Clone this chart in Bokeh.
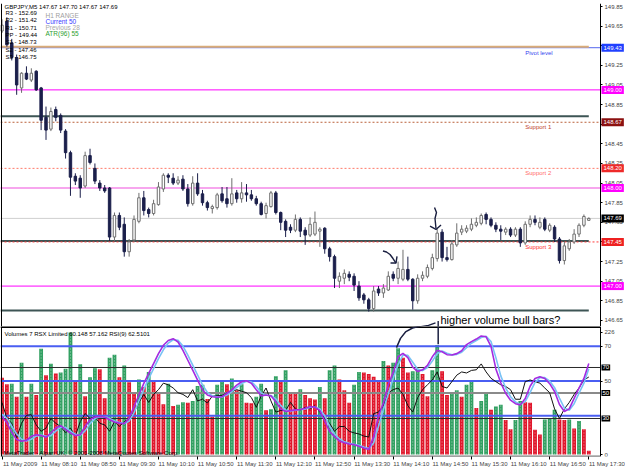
from bokeh.plotting import figure
from bokeh.layouts import column
from bokeh.models import Range1d, LinearAxis, FixedTicker, Label, ColumnDataSource, Span
from bokeh.embed import file_html
from bokeh.resources import INLINE

# ---------------- data ----------------
opens = [149.60, 149.70, 149.48, 149.33, 149.02, 149.17, 149.10, 149.19, 149.02, 148.72,
         148.60, 148.80, 148.74, 148.58, 148.36, 148.12, 148.10, 148.02, 148.33, 148.20,
         148.05, 148.00, 148.00, 147.50, 147.72, 147.63, 147.35, 147.47, 147.66, 147.90,
         147.78, 147.74, 147.83, 147.99, 148.13, 148.10, 148.05, 148.09, 147.99, 147.84,
         148.05, 147.94, 147.85, 147.79, 147.80, 147.94, 147.89, 147.84, 147.95, 147.89,
         147.95, 147.93, 147.89, 147.84, 147.74, 147.81, 147.95, 147.75, 147.66, 147.60,
         147.57, 147.68, 147.57, 147.52, 147.53, 147.56, 147.59, 147.38, 147.30, 147.05,
         147.08, 147.12, 147.10, 147.00, 146.91, 146.86, 146.77, 146.97, 146.93, 146.96,
         147.12, 147.08, 147.07, 147.17, 147.07, 146.85, 147.08, 147.10, 147.18, 147.28,
         147.55, 147.29, 147.27, 147.42, 147.55, 147.56, 147.58, 147.62, 147.64, 147.73,
         147.68, 147.62, 147.58, 147.55, 147.58, 147.52, 147.58, 147.44, 147.63, 147.68,
         147.60, 147.68, 147.57, 147.60, 147.48, 147.26, 147.38, 147.45, 147.53, 147.62,
         147.67]
highs = [149.72, 149.74, 149.52, 149.36, 149.18, 149.24, 149.22, 149.20, 149.03, 148.83,
         148.82, 148.83, 148.76, 148.60, 148.38, 148.15, 148.13, 148.37, 148.40, 148.25,
         148.08, 148.03, 148.01, 147.75, 147.75, 147.70, 147.48, 147.72, 147.95, 147.97,
         147.80, 147.88, 148.06, 148.15, 148.15, 148.15, 148.12, 148.13, 148.04, 148.12,
         148.15, 147.98, 147.87, 147.83, 147.95, 148.01, 148.01, 148.10, 147.98, 148.06,
         148.04, 147.98, 147.92, 147.86, 147.85, 147.97, 147.97, 147.76, 147.68, 147.63,
         147.73, 147.70, 147.60, 147.70, 147.76, 147.60, 147.60, 147.40, 147.32, 147.14,
         147.17, 147.15, 147.13, 147.05, 146.93, 146.88, 147.00, 147.00, 147.02, 147.15,
         147.15, 147.25, 147.37, 147.30, 147.08, 147.12, 147.15, 147.22, 147.33, 147.58,
         147.58, 147.40, 147.47, 147.64, 147.62, 147.62, 147.69, 147.70, 147.74, 147.75,
         147.70, 147.65, 147.62, 147.60, 147.60, 147.60, 147.60, 147.66, 147.72, 147.72,
         147.70, 147.70, 147.64, 147.62, 147.50, 147.45, 147.48, 147.58, 147.64, 147.73,
         147.70]
lows = [149.58, 149.44, 149.30, 148.95, 148.97, 149.10, 149.08, 148.99, 148.59, 148.49,
        148.58, 148.68, 148.56, 148.30, 147.92, 148.03, 147.90, 148.00, 148.24, 148.04,
        147.97, 147.95, 147.46, 147.46, 147.57, 147.30, 147.30, 147.45, 147.64, 147.72,
        147.70, 147.72, 147.82, 147.96, 148.05, 148.03, 148.03, 147.97, 147.81, 147.82,
        147.92, 147.82, 147.77, 147.74, 147.78, 147.85, 147.80, 147.82, 147.85, 147.85,
        147.86, 147.87, 147.82, 147.72, 147.69, 147.80, 147.73, 147.57, 147.50, 147.54,
        147.55, 147.50, 147.42, 147.50, 147.51, 147.40, 147.33, 147.25, 146.98, 146.98,
        147.02, 147.05, 146.95, 146.85, 146.82, 146.74, 146.74, 146.90, 146.88, 146.95,
        147.05, 147.02, 147.05, 147.05, 146.76, 146.82, 147.05, 147.08, 147.16, 147.25,
        147.25, 147.25, 147.26, 147.40, 147.52, 147.54, 147.56, 147.60, 147.62, 147.63,
        147.60, 147.55, 147.47, 147.52, 147.50, 147.50, 147.40, 147.42, 147.60, 147.62,
        147.58, 147.56, 147.55, 147.45, 147.23, 147.22, 147.36, 147.43, 147.50, 147.60,
        147.67]
closes = [149.66, 149.46, 149.33, 149.05, 149.17, 149.11, 149.17, 149.00, 148.69, 148.59,
          148.78, 148.72, 148.59, 148.36, 148.11, 148.07, 148.00, 148.33, 148.26, 148.07,
          148.00, 147.97, 147.50, 147.72, 147.60, 147.35, 147.45, 147.68, 147.90, 147.77,
          147.74, 147.84, 148.01, 148.13, 148.11, 148.05, 148.08, 147.99, 147.84, 148.05,
          147.94, 147.85, 147.80, 147.81, 147.93, 147.87, 147.84, 147.94, 147.89, 147.95,
          147.93, 147.89, 147.84, 147.73, 147.82, 147.95, 147.75, 147.65, 147.57, 147.57,
          147.68, 147.56, 147.52, 147.63, 147.65, 147.58, 147.38, 147.30, 147.08, 147.10,
          147.13, 147.09, 147.01, 146.88, 146.86, 146.77, 146.95, 146.93, 146.98, 147.10,
          147.08, 147.18, 147.17, 147.07, 146.85, 147.08, 147.11, 147.19, 147.29, 147.54,
          147.29, 147.27, 147.43, 147.54, 147.58, 147.59, 147.63, 147.65, 147.72, 147.68,
          147.62, 147.58, 147.56, 147.58, 147.52, 147.58, 147.44, 147.63, 147.68, 147.65,
          147.65, 147.58, 147.62, 147.48, 147.26, 147.41, 147.45, 147.53, 147.62, 147.71,
          147.69]
volumes = [142, 130, 131, 107, 170, 107, 131, 110, 196, 147,
           168, 150, 152, 159, 226, 136, 167, 108, 143, 160,
           158, 104, 179, 185, 143, 165, 134, 115, 139, 125,
           153, 135, 115, 93, 131, 90, 92, 97, 96, 99,
           127, 129, 103, 70, 129, 137, 130, 141, 119, 130,
           96, 95, 107, 131, 82, 84, 145, 136, 156, 116,
           112, 121, 110, 104, 102, 125, 104, 156, 165, 139,
           119, 96, 129, 153, 152, 149, 144, 136, 173, 165,
           170, 197, 179, 152, 154, 159, 149, 108, 156, 203,
           154, 110, 116, 119, 107, 129, 137, 86, 99, 113,
           83, 89, 92, 64, 47, 64, 99, 97, 96, 46,
           37, 65, 66, 83, 65, 64, 65, 48, 62, 47,
           7]
rsx = [29.6, 26.0, 20.5, 16.3, 15.3, 15.9, 18.2, 19.1, 18.6, 17.6,
       20.1, 23.0, 24.3, 22.0, 20.1, 18.6, 19.1, 23.9, 27.7, 29.3,
       29.6, 29.3, 27.7, 26.4, 25.8, 25.4, 28.7, 35.3, 42.0, 48.7,
       54.4, 60.1, 65.8, 70.6, 73.4, 74.4, 72.5, 67.7, 62.0, 56.3,
       50.6, 44.9, 42.0, 41.0, 40.7, 41.0, 43.0, 44.9, 47.7, 49.6,
       50.2, 48.7, 45.0, 41.5, 42.0, 41.5, 38.0, 34.0, 32.5, 33.0,
       33.4, 33.6, 34.4, 35.3, 35.0, 33.0, 27.0, 21.0, 18.0, 15.5,
       14.5, 13.8, 13.4, 12.5, 11.5, 10.6, 18.0, 30.0, 37.4, 48.0,
       55.0, 64.0, 66.0, 63.5, 58.0, 55.5, 56.5, 59.0, 64.0, 67.7,
       66.9, 65.2, 65.0, 65.8, 67.5, 71.0, 72.7, 74.2, 76.0, 75.5,
       70.0, 57.0, 49.0, 43.0, 39.0, 37.0, 36.3, 40.0, 47.0, 51.5,
       52.5, 51.5, 48.5, 44.0, 36.5, 32.5, 34.0, 40.0, 46.0, 51.5,
       60.148]
rsx_signal = [31.0, 28.5, 24.0, 19.5, 16.5, 15.5, 16.5, 18.3, 18.9, 18.2,
              18.6, 21.2, 23.4, 23.3, 21.2, 19.4, 18.8, 21.3, 25.5, 28.4,
              29.4, 29.4, 28.5, 27.0, 26.1, 25.6, 26.9, 31.8, 38.5, 45.2,
              51.4, 57.2, 62.9, 68.0, 71.9, 73.8, 73.5, 70.2, 64.9, 59.2,
              53.5, 47.8, 43.5, 41.5, 40.9, 40.9, 42.0, 43.9, 46.3, 48.6,
              49.9, 49.5, 46.9, 43.2, 41.8, 41.7, 39.8, 36.0, 33.3, 32.8,
              33.2, 33.5, 34.0, 34.8, 35.1, 34.0, 30.0, 24.0, 19.5, 16.8,
              15.0, 14.2, 13.6, 13.0, 12.0, 11.1, 14.3, 24.0, 33.7, 42.7,
              51.5, 59.5, 65.0, 64.8, 60.8, 56.8, 56.0, 57.8, 61.5, 65.9,
              67.3, 66.0, 65.1, 65.4, 66.6, 69.2, 71.8, 73.4, 75.1, 75.8,
              72.8, 63.5, 53.0, 46.0, 41.0, 38.0, 36.6, 38.2, 43.5, 49.2,
              52.0, 52.0, 50.0, 46.2, 40.2, 34.5, 33.2, 37.0, 43.0, 48.8,
              57.162]
rsi9 = [42.6, 30.0, 26.2, 14.9, 26.2, 32.5, 33.0, 25.0, 20.0, 22.5,
        30.0, 26.2, 23.7, 18.7, 22.5, 16.2, 27.5, 33.8, 30.0, 31.3,
        26.2, 25.0, 20.0, 27.5, 23.7, 27.5, 30.0, 35.0, 42.6, 48.9,
        42.6, 48.9, 52.6, 57.7, 56.4, 53.9, 50.2, 48.9, 46.4, 52.6,
        43.8, 45.1, 42.1, 47.6, 48.1, 48.1, 50.2, 51.4, 52.6, 51.4,
        50.2, 46.4, 38.8, 47.6, 53.9, 43.8, 35.0, 36.3, 36.3, 42.6,
        37.5, 36.3, 38.8, 37.5, 40.0, 35.0, 30.0, 26.2, 20.0, 23.7,
        23.7, 20.0, 18.7, 17.9, 16.2, 15.5, 33.8, 35.0, 40.0, 50.2,
        52.6, 53.9, 48.9, 40.0, 35.0, 46.4, 52.6, 56.4, 60.2, 66.5,
        55.1, 53.9, 58.9, 64.0, 66.5, 65.7, 67.7, 68.2, 72.8, 66.5,
        61.5, 58.9, 56.4, 55.1, 52.6, 45.1, 45.1, 58.9, 60.2, 58.9,
        57.7, 53.9, 50.2, 37.5, 30.0, 37.5, 42.6, 48.9, 53.9, 60.2,
        62.5101]

time_labels = ["11 May 2009", "11 May 08:10", "11 May 08:50", "11 May 09:30",
               "11 May 10:10", "11 May 10:50", "11 May 11:30", "11 May 12:10",
               "11 May 12:50", "11 May 13:30", "11 May 14:10", "11 May 14:50",
               "11 May 15:30", "11 May 16:10", "11 May 16:50", "11 May 17:30"]
bars_per_label = 8

price_ticks = [146.65, 146.85, 147.05, 147.25, 147.45, 147.65, 147.85, 148.05,
               148.25, 148.45, 148.65, 148.85, 149.05, 149.25, 149.45, 149.65, 149.85]

pivot_names = ["R3", "R2", "R1", "PP", "S1", "S2", "S3"]
pivot_values = [152.69, 151.42, 150.71, 149.44, 148.73, 147.46, 146.75]
level_names = ["Pivot level", "Support 1", "Support 2", "Support 3"]
level_values = [149.43, 148.67, 148.20, 147.45]
round_levels = [149.00, 148.00, 147.00]
bid_price = 147.69
symbol_header = "GBPJPY,M5  147.67 147.70 147.67 147.69"
range_lines = ["H1 RANGE", "Current 50", "Previous 28", "ATR(96) 55"]

rsx_levels = [70, 50, 30]
rsi_levels = [70, 50, 30]
vol_axis_labels = [226, 0]
indicator_header = "Volumes 7  RSX Limited 60.148 57.162  RSI(9) 62.5101"
copyright_text = "MetaTrader - Alpari UK, \u00a9 2001-2008 MetaQuotes Software Corp."
note_text = "higher volume bull bars?"

# hand-drawn annotations (bar index, price / rsx units)
arrow1_bar = [77.91, 78.63, 79.35, 79.96, 80.57]
arrow1_price = [147.358, 147.347, 147.322, 147.281, 147.235]
arrow1_head_bar = [79.45, 80.57, 80.78]
arrow1_head_price = [147.235, 147.235, 147.302]
arrow2_bar = [88.45, 88.85, 88.55, 88.75]
arrow2_price = [147.801, 147.750, 147.689, 147.587]
arrow2_head_bar = [87.53, 88.75, 89.78]
arrow2_head_price = [147.612, 147.577, 147.623]
arrow3_bar = [80.67, 81.49, 82.52, 83.95, 85.58, 87.22, 88.65]
arrow3_rsx = [69.26, 74.57, 78.29, 80.57, 81.71, 82.57, 83.89]
arrow3_stem_bar = [89.2, 89.2]
arrow3_stem_rsx = [84.86, 71.14]
arrow3_top_bar = [85.58, 87.22, 88.65]
arrow3_top_price = [146.585, 146.600, 146.625]
arrow3_top_stem_bar = [89.2, 89.2]
arrow3_top_stem_price = [146.645, 146.59]

FONT = "Liberation Sans"
PX_PER_BAR = 4.89
X_START = -1.5 / PX_PER_BAR          # frame spans the whole 625 px width
X_END = (625 - 1.5) / PX_PER_BAR
X_AXIS = (600 - 1.5) / PX_PER_BAR    # where the MT4 price scale starts
X_LEFT = (1 - 1.5) / PX_PER_BAR
LABEL_SHIFT = 3.7                    # time labels start at their tick (MT4 style)

n = len(closes)
idx = list(range(n))
INK = "#1a1f40"


def style_axis(ax, size="6px"):
    ax.major_label_text_font_size = size
    ax.major_label_text_font = FONT
    ax.minor_tick_line_color = None
    ax.major_tick_in = 0


# ---------------- main price panel ----------------
p1 = figure(width=625, height=326, x_range=Range1d(X_START, X_END),
            y_range=Range1d(146.5880, 149.8806), output_backend="svg",
            toolbar_location=None, x_axis_location=None, y_axis_location=None,
            min_border_left=0, min_border_right=0, min_border_top=3, min_border_bottom=0)
p1.grid.visible = False
p1.outline_line_color = None

# horizontal level lines (end at the price scale)
for lv in round_levels:
    p1.segment(x0=[X_START], x1=[X_AXIS], y0=[lv], y1=[lv], line_color="#ff00ff", line_width=1)
p1.segment(x0=[X_START], x1=[X_AXIS], y0=[round_levels[1]], y1=[round_levels[1]], line_color="#f7a6ee", line_width=2)
p1.segment(x0=[X_START], x1=[X_AXIS], y0=[bid_price], y1=[bid_price], line_color="#cfcfcf", line_width=1)
p1.segment(x0=[X_START], x1=[X_AXIS], y0=[level_values[0]], y1=[level_values[0]], line_color="#5566ee", line_width=1)
p1.segment(x0=[X_START], x1=[n - 1], y0=[pivot_values[3]], y1=[pivot_values[3]], line_color="#d9ac78", line_width=2)
for pv in pivot_values[4:]:
    p1.segment(x0=[X_START], x1=[n - 1], y0=[pv], y1=[pv], line_color="#3d5555", line_width=2)
sup_colors = ["#b9603a", "#ff7a6a", "#ff3b3b"]
sup_text_colors = ["#c0402a", "#ff6a6a", "#ff3030"]
for lv, col in zip(level_values[1:], sup_colors):
    p1.segment(x0=[X_START], x1=[X_AXIS], y0=[lv], y1=[lv], line_color=col, line_width=1, line_dash="2 2")

# candles
bull = [c >= o for o, c in zip(opens, closes)]
src = ColumnDataSource(dict(
    x=idx, h=highs, l=lows,
    top=[max(o, c) for o, c in zip(opens, closes)],
    bottom=[min(o, c) for o, c in zip(opens, closes)],
    fill=["white" if b else "#1b1f4b" for b in bull],
    line=["#6e6e6e" if b else "#1b1f4b" for b in bull],
))
p1.segment(x0="x", y0="l", x1="x", y1="h", line_color="line", line_width=1, source=src)
p1.vbar(x="x", width=0.5, top="top", bottom="bottom", fill_color="fill", line_color="line",
        line_width=1, source=src)

# hand-drawn annotations
for xs, ys in [(arrow1_bar, arrow1_price), (arrow1_head_bar, arrow1_head_price),
               (arrow2_bar, arrow2_price), (arrow2_head_bar, arrow2_head_price),
               (arrow3_top_bar, arrow3_top_price), (arrow3_top_stem_bar, arrow3_top_stem_price)]:
    p1.line(xs, ys, line_color=INK, line_width=1.4)

# price scale: a real axis fixed at the scale's left edge
ya = LinearAxis(ticker=FixedTicker(ticks=price_ticks), fixed_location=X_AXIS)
style_axis(ya)
ya.major_tick_out = 2
ya.major_label_standoff = 2
ya.axis_line_color = "black"
p1.add_layout(ya, "right")
p1.add_layout(Span(location=X_LEFT, dimension="height", line_color="black", line_width=1))

# coloured value boxes on the price scale
box_specs = [(level_values[0], "#2040ff"), (round_levels[0], "#ff00ff"), (level_values[1], "#8b1010"),
             (level_values[2], "#ee2a2a"), (round_levels[1], "#ff00ff"), (bid_price, "#000000"),
             (level_values[3], "#ee2020"), (round_levels[2], "#ff00ff")]
for val, col in box_specs:
    p1.add_layout(Label(x=X_AXIS, y=val, x_offset=1, text=f"{val:.2f}", text_font=FONT,
                        text_font_size="6px", text_color="white", text_baseline="middle",
                        text_align="left", background_fill_color=col, padding=2))

# level texts
for name, lv, col in zip(level_names, level_values, ["#3344ee"] + sup_text_colors):
    p1.add_layout(Label(x=107.0, y=lv, text=name, text_font=FONT, text_font_size="6px",
                        text_color=col, text_baseline="top", y_offset=-2))

# top-left texts (screen units are measured from the frame's bottom-left)
p1.add_layout(Label(x=4, x_units="screen", y=320, y_units="screen", text=symbol_header,
                    text_font=FONT, text_font_size="6px", text_color="black", text_baseline="middle"))
for k, (nm, pv) in enumerate(zip(pivot_names, pivot_values)):
    p1.add_layout(Label(x=5, x_units="screen", y=313.5 - 7.3 * k, y_units="screen",
                        text=f"{nm} - {pv:.2f}", text_font=FONT, text_font_size="6px",
                        text_color="black", text_baseline="middle"))
for k, (t, col) in enumerate(zip(range_lines, ["#a0a0a0", "#3a3aff", "#a8a8a8", "#2ea02e"])):
    p1.add_layout(Label(x=45, x_units="screen", y=311 - 6 * k, y_units="screen", text=t,
                        text_font=FONT, text_font_size="6.5px", text_color=col, text_baseline="middle"))
p1.add_layout(Label(x=440, x_units="screen", y=7, y_units="screen", text=note_text,
                    text_font=FONT, text_font_size="11px", text_color="black", text_baseline="alphabetic"))

# ---------------- indicator panel ----------------
p2 = figure(width=625, height=143, x_range=p1.x_range, y_range=Range1d(6.57, 81.43),
            output_backend="svg", toolbar_location=None, y_axis_location=None,
            min_border_left=0, min_border_right=0, min_border_top=0, min_border_bottom=12)
p2.extra_y_ranges = {"vol": Range1d(-3.68, 237.1), "rsi": Range1d(0.195, 102.14)}
p2.grid.visible = False
p2.outline_line_color = None

vcol = ["#e0162b"] + ["#32a062" if volumes[i] > volumes[i - 1] else "#e0162b" for i in range(1, n)]
vsrc = ColumnDataSource(dict(x=idx, v=volumes, c=vcol))
p2.vbar(x="x", top="v", bottom=0, width=0.78, fill_color="c", line_color=None,
        y_range_name="vol", source=vsrc)
p2.segment(x0="x", y0=0, x1="x", y1="v", line_color="white", line_alpha=0.55, line_width=1,
           line_dash="1 2", y_range_name="vol", source=vsrc)

for lv in rsi_levels:
    p2.segment(x0=[X_START], x1=[X_AXIS], y0=[lv], y1=[lv], line_color="#8a8a8a" if lv == 50 else "#2a2a2a",
               line_width=2 if lv == 50 else 1, y_range_name="rsi")
for lv in rsx_levels:
    p2.segment(x0=[X_START], x1=[X_AXIS], y0=[lv], y1=[lv], line_color="#4a5ef2", line_width=2)
# panel separator along the top edge and the bottom border up to the scale
p2.segment(x0=[X_START], x1=[X_AXIS], y0=[81.1], y1=[81.1], line_color="black", line_width=2)
p2.segment(x0=[X_START], x1=[X_AXIS], y0=[-3.2], y1=[-3.2], line_color="black", line_width=1,
           y_range_name="vol")

p2.line(idx, rsi9, line_color="#111111", line_width=1, y_range_name="rsi")
p2.line(idx, rsx_signal, line_color="#79c2f5", line_width=1.6)
p2.line(idx, rsx, line_color="#a42be0", line_width=1.6)
p2.line(arrow3_bar, arrow3_rsx, line_color=INK, line_width=1.5)
p2.line(arrow3_stem_bar, arrow3_stem_rsx, line_color=INK, line_width=1.5)

ra = LinearAxis(ticker=FixedTicker(ticks=rsx_levels[:2]), fixed_location=X_AXIS)
style_axis(ra)
ra.major_tick_out = 2
ra.major_label_standoff = 2
ra.axis_line_color = "black"
p2.add_layout(ra, "right")
vax = LinearAxis(y_range_name="vol", ticker=FixedTicker(ticks=vol_axis_labels), fixed_location=X_AXIS,
                 axis_line_color=None, major_tick_out=2, major_label_standoff=2)
style_axis(vax)
p2.add_layout(vax, "right")
for lv in rsi_levels:
    p2.add_layout(Label(x=X_AXIS, y=lv, y_range_name="rsi", x_offset=1, text=str(lv),
                        text_font=FONT, text_font_size="6px", text_color="white", text_baseline="middle",
                        background_fill_color="black", padding=1))
p2.add_layout(Span(location=X_LEFT, dimension="height", line_color="black", line_width=1))

# time axis: tick marks at the bars, labels starting at each tick
xa = p2.xaxis[0]
tick_bars = [k * bars_per_label for k in range(len(time_labels))]
label_pos = [t + LABEL_SHIFT for t in tick_bars]
xa.ticker = FixedTicker(ticks=label_pos, minor_ticks=tick_bars)
xa.major_label_overrides = {p: s for p, s in zip(label_pos, time_labels)}
xa.major_label_text_font_size = "6px"
xa.major_label_text_font = FONT
xa.axis_line_color = None
xa.major_tick_line_color = None
xa.major_tick_out = 3
xa.major_tick_in = 0
xa.minor_tick_line_color = "black"
xa.minor_tick_out = 3
xa.minor_tick_in = 0
xa.major_label_standoff = 1

p2.add_layout(Label(x=4, x_units="screen", y=123, y_units="screen", text=indicator_header,
                    text_font=FONT, text_font_size="6px", text_color="black", text_baseline="middle"))
p2.add_layout(Label(x=3, x_units="screen", y=4, y_units="screen", text=copyright_text,
                    text_font=FONT, text_font_size="6px", text_color="black", text_baseline="middle"))

layout = column(p1, p2, spacing=0)
open("out.html", "w").write(file_html(layout, INLINE))
